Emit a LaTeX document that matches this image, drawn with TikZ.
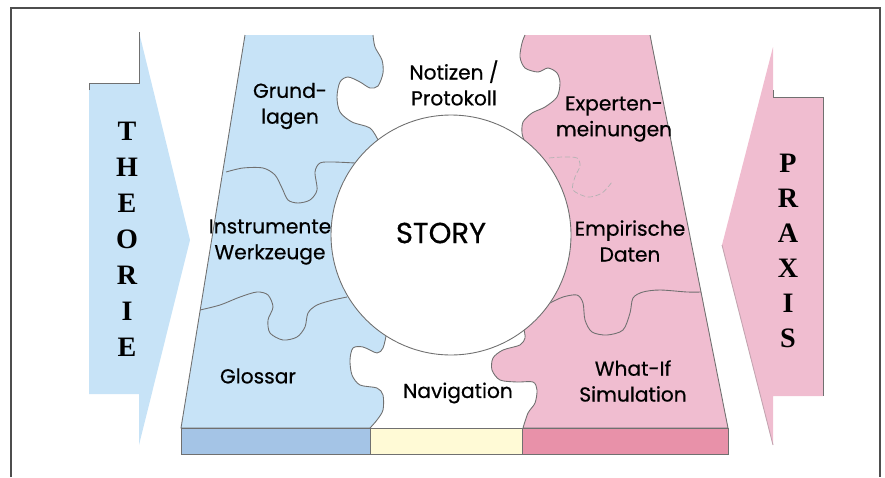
\documentclass[tikz,border=0pt]{standalone}
\usepackage{fontspec}
\setmainfont{Liberation Serif}
\newfontfamily\puzzlefont{Poppins}[BoldFont=Poppins,BoldFeatures={FakeBold=0.5}]
\definecolor{theoblue}{HTML}{C7E3F7}
\definecolor{praxpink}{HTML}{F0BDD0}
\definecolor{barblue}{HTML}{A4C4E6}
\definecolor{baryellow}{HTML}{FFFAD6}
\definecolor{barpink}{HTML}{E891A9}
\definecolor{edgegray}{HTML}{707070}
\begin{document}
\begin{tikzpicture}[x=0.02cm,y=-0.02cm,
		piece/.style={font=\puzzlefont\bfseries\fontsize{11.5}{14.7}\selectfont,align=center,inner sep=0pt},
		letter/.style={font=\bfseries\fontsize{16}{18}\selectfont,inner sep=0pt},
		seam/.style={draw=edgegray,line width=0.5pt}]
		\useasboundingbox (0,0) rectangle (885,477);
		\draw [edgegray!70!black,line width=0.7pt] (11,477) -- (11,8) -- (880,8) -- (880,477);
		% arrows
		\fill [theoblue] (89,83) -- (139,83) -- (139,32) -- (190,240) -- (139,445) -- (139,394) -- (89,394) -- cycle;
		\draw [seam] (89,90) -- (89,83) -- (139,83) -- (139,32);
		\fill [praxpink] (823,97) -- (773,97) -- (773,47) -- (722,245) -- (773,445) -- (773,396) -- (823,396) -- cycle;
		\draw [seam] (773,90) -- (773,97) -- (823,97) -- (823,396);
		\draw [seam,draw=praxpink!60!gray] (722,245) -- (773,445);
		% puzzle
		\filldraw [fill=theoblue,seam] plot [smooth] coordinates {(373,35) (375,47) (382,60) (383,73) (378,86) (370,88) (360,82) (348,77) (340,82) (337,97) (340,112) (352,122) (370,128) (378,140)} -- (451,235) -- plot [smooth] coordinates {(386,336) (383,348) (377,353) (363,347) (353,348) (350,360) (352,375) (360,385) (377,388) (383,395) (383,410) (377,420) (370,428)} -- (181,428) -- (245,35);
		\filldraw [fill=praxpink,seam] (650,35) -- (728,428) -- plot [smooth] coordinates {(523,428) (528,413) (535,403) (537,390) (533,382) (517,382) (500,380) (492,370) (493,358) (503,350) (520,345) (525,338) (524,330)} -- (451,235) -- plot [smooth] coordinates {(524,140) (522,133) (523,122) (532,113) (545,107) (557,97) (560,83) (557,73) (548,68) (538,72) (525,68) (520,57) (522,43) (525,35)};
		\draw [seam] plot [smooth] coordinates {(226,172) (243,168) (263,168) (275,175) (282,188) (288,200) (298,203) (310,200) (317,190) (315,172) (320,163) (333,162) (355,163)};
		\draw [seam] plot [smooth] coordinates {(200,310) (220,305) (240,297) (257,292) (268,295) (273,307) (268,320) (270,333) (283,340) (297,337) (305,327) (308,313) (317,305) (333,300) (347,297)};
		\draw [seam] plot [smooth] coordinates {(550,303) (563,297) (577,295) (583,303) (585,320) (592,332) (607,335) (623,330) (630,313) (633,298) (643,292) (660,290) (687,292) (701,292)};
		\draw [gray!60,line width=0.4pt,dash pattern=on 3pt off 1.5pt] plot [smooth] coordinates {(549,158) (563,157) (577,158) (580,166) (575,177) (573,190) (588,197) (602,193) (612,182)};
		\filldraw [fill=white,seam] (451,235) circle [radius=2.4cm];
		% bar
		\filldraw [fill=barblue,seam] (181,428) rectangle (370,454);
		\filldraw [fill=baryellow,seam] (370,428) rectangle (522,454);
		\filldraw [fill=barpink,seam] (522,428) rectangle (728,454);
		% labels
		\node [piece] (grund) at (290,106) {Grund-\\lagen};
		\node [piece] (notiz) at (454,83) {Notizen /\\Protokoll};
		\node [piece] (expert) at (614,119) {Experten-\\meinungen};
		\node [piece] (instr) at (270,242) {Instrumente\\Werkzeuge};
		\node [piece] (empir) at (630,241) {Empirische\\Daten};
		\node [piece] (gloss) at (258,376) {Glossar};
		\node [piece] (navi) at (458,393) {Navigation};
		\node [piece] (whatif) at (633,381) {What-If\\Simulation};
		\node [piece,font=\puzzlefont\bfseries\fontsize{16.5}{18}\selectfont] (story) at (441,233) {STORY};
		\foreach \ch [count=\i] in {T,H,E,O,R,I,E}
			\node [letter] (theo\i) at (127,95+36*\i) {\ch};
		\foreach \ch [count=\i] in {P,R,A,X,I,S}
			\node [letter] (prax\i) at (788,128+35*\i) {\ch};
	\end{tikzpicture}
\end{document}
